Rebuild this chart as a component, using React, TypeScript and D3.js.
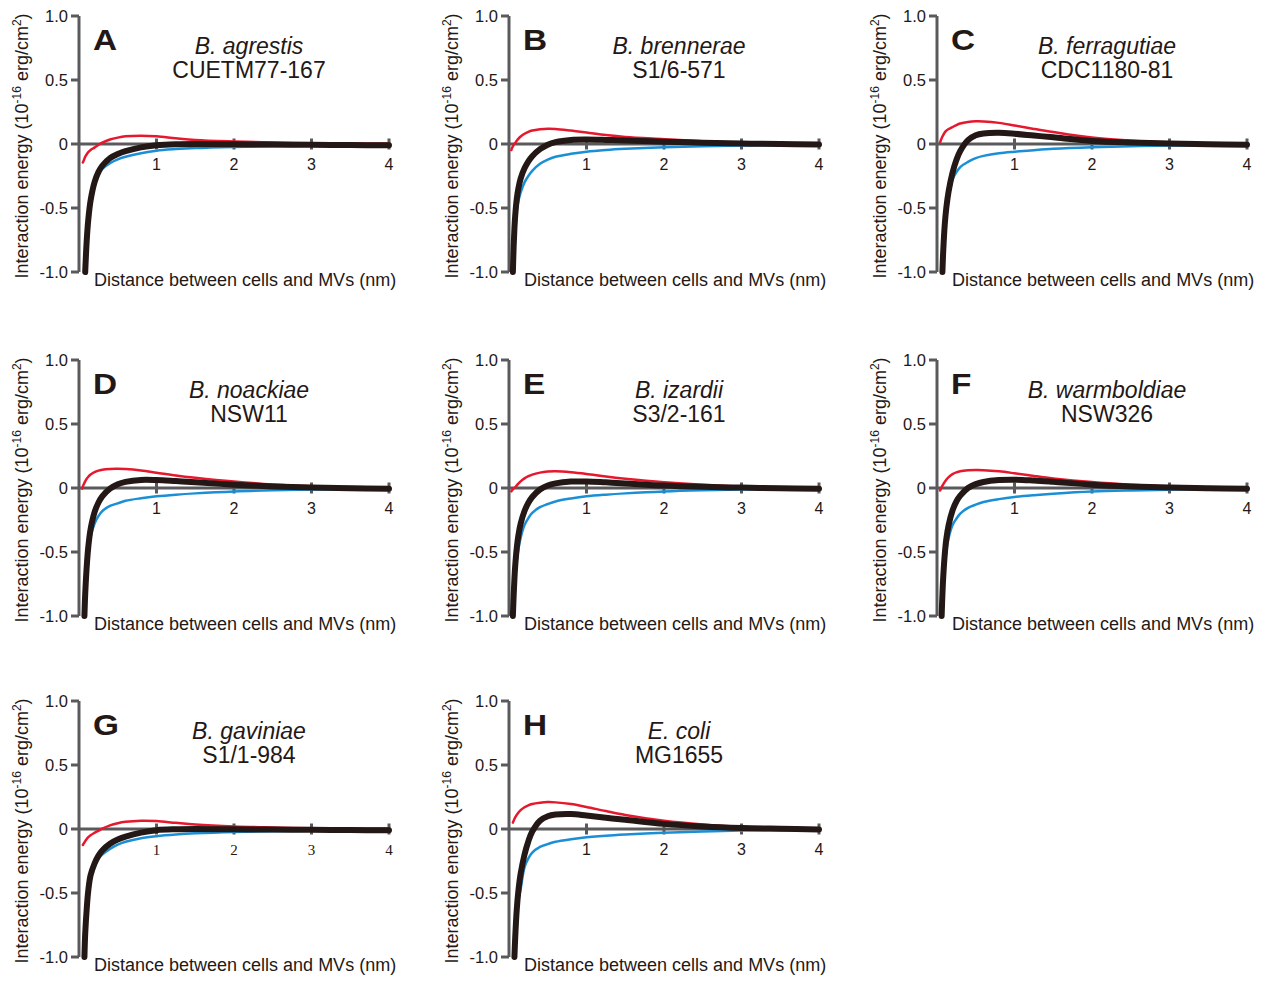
import React from "react";
import * as d3 from "d3";

// distance between cells and MVs (nm), shared sampling grid
const distance = [
  0.03, 0.04, 0.05, 0.06, 0.07, 0.08, 0.1, 0.12, 0.15, 0.2, 0.25, 0.3, 0.4,
  0.5, 0.6, 0.8, 1.0, 1.25, 1.5, 2.0, 2.5, 3.0, 3.5, 4.0,
];

const panelLetters = ["A", "B", "C", "D", "E", "F", "G", "H"];
const speciesNames = [
  "B. agrestis",
  "B. brennerae",
  "B. ferragutiae",
  "B. noackiae",
  "B. izardii",
  "B. warmboldiae",
  "B. gaviniae",
  "E. coli",
];
const strainNames = [
  "CUETM77-167",
  "S1/6-571",
  "CDC1180-81",
  "NSW11",
  "S3/2-161",
  "NSW326",
  "S1/1-984",
  "MG1655",
];
const yTicks = [1.0, 0.5, 0, -0.5, -1.0];
const yTickLabels = ["1.0", "0.5", "0", "-0.5", "-1.0"];
const xTicks = [1, 2, 3, 4];

// red curve, one row per panel, values on the distance grid
const redCurves = [
  [null, null, -0.145, -0.13, -0.115, -0.1, -0.08, -0.064, -0.046, -0.028, -0.008, 0.01, 0.035, 0.05, 0.06, 0.065, 0.06, 0.045, 0.032, 0.02, 0.012, 0.006, 0.003, 0.002],
  [-0.047, -0.03, -0.018, -0.008, 0.0, 0.008, 0.025, 0.04, 0.058, 0.08, 0.095, 0.105, 0.115, 0.12, 0.118, 0.105, 0.09, 0.07, 0.055, 0.038, 0.022, 0.011, 0.006, 0.003],
  [null, 0.013, 0.03, 0.045, 0.058, 0.07, 0.09, 0.104, 0.117, 0.132, 0.148, 0.16, 0.172, 0.177, 0.176, 0.165, 0.145, 0.118, 0.093, 0.05, 0.026, 0.011, 0.005, 0.003],
  [null, -0.005, 0.012, 0.027, 0.04, 0.052, 0.072, 0.088, 0.105, 0.124, 0.136, 0.143, 0.149, 0.15, 0.148, 0.137, 0.12, 0.098, 0.08, 0.05, 0.028, 0.013, 0.007, 0.004],
  [-0.026, -0.018, -0.01, -0.004, 0.0, 0.006, 0.02, 0.034, 0.052, 0.075, 0.092, 0.105, 0.12, 0.128, 0.13, 0.123, 0.11, 0.09, 0.073, 0.045, 0.025, 0.012, 0.006, 0.004],
  [null, -0.02, -0.006, 0.006, 0.018, 0.028, 0.048, 0.065, 0.085, 0.108, 0.122, 0.131, 0.138, 0.14, 0.139, 0.13, 0.115, 0.094, 0.075, 0.046, 0.026, 0.012, 0.006, 0.004],
  [null, null, -0.125, -0.115, -0.105, -0.095, -0.078, -0.064, -0.048, -0.03, -0.014, 0.002, 0.028, 0.045, 0.056, 0.065, 0.062, 0.048, 0.035, 0.02, 0.012, 0.006, 0.003, 0.002],
  [null, null, 0.05, 0.065, 0.078, 0.09, 0.11, 0.127, 0.147, 0.17, 0.185, 0.195, 0.205, 0.21, 0.208, 0.195, 0.172, 0.14, 0.11, 0.065, 0.036, 0.017, 0.008, 0.004],
];

// blue curve
const blueCurves = [
  [null, null, null, null, null, null, -0.7, -0.55, -0.42, -0.3, -0.235, -0.195, -0.15, -0.12, -0.1, -0.072, -0.052, -0.04, -0.032, -0.023, -0.017, -0.013, -0.01, -0.008],
  [null, null, null, null, null, -0.62, -0.52, -0.45, -0.38, -0.3, -0.25, -0.21, -0.155, -0.122, -0.1, -0.077, -0.06, -0.047, -0.038, -0.025, -0.017, -0.012, -0.009, -0.007],
  [null, null, null, null, null, -0.85, -0.64, -0.52, -0.42, -0.28, -0.22, -0.18, -0.14, -0.11, -0.093, -0.072, -0.06, -0.048, -0.038, -0.026, -0.018, -0.012, -0.009, -0.006],
  [null, null, null, null, null, -0.85, -0.63, -0.5, -0.38, -0.28, -0.22, -0.18, -0.14, -0.12, -0.1, -0.08, -0.065, -0.052, -0.042, -0.027, -0.018, -0.012, -0.009, -0.006],
  [null, null, null, null, null, -0.7, -0.57, -0.48, -0.39, -0.29, -0.235, -0.195, -0.15, -0.125, -0.105, -0.082, -0.065, -0.052, -0.042, -0.027, -0.018, -0.012, -0.009, -0.006],
  [null, null, null, null, null, -0.78, -0.6, -0.49, -0.39, -0.29, -0.24, -0.2, -0.155, -0.13, -0.11, -0.087, -0.07, -0.056, -0.045, -0.028, -0.019, -0.013, -0.009, -0.006],
  [null, null, null, null, null, null, -0.6, -0.46, -0.36, -0.28, -0.23, -0.2, -0.155, -0.122, -0.1, -0.072, -0.056, -0.043, -0.034, -0.023, -0.017, -0.013, -0.01, -0.008],
  [null, null, null, null, null, -0.9, -0.68, -0.56, -0.47, -0.3, -0.23, -0.185, -0.14, -0.118, -0.1, -0.08, -0.065, -0.052, -0.043, -0.029, -0.019, -0.012, -0.009, -0.006],
];

// black curve (total)
const totalCurves = [
  [null, null, null, null, null, -1.0, -0.75, -0.59, -0.44, -0.3, -0.22, -0.17, -0.11, -0.078, -0.056, -0.026, -0.01, -0.002, 0.0, -0.002, -0.004, -0.006, -0.008, -0.01],
  [null, null, -1.0, -0.8, -0.66, -0.56, -0.43, -0.35, -0.27, -0.19, -0.135, -0.095, -0.04, -0.005, 0.015, 0.032, 0.035, 0.032, 0.027, 0.018, 0.01, 0.004, 0.0, -0.004],
  [null, null, null, null, -1.0, -0.84, -0.63, -0.5, -0.37, -0.225, -0.125, -0.055, 0.03, 0.068, 0.082, 0.087, 0.08, 0.066, 0.052, 0.024, 0.011, 0.003, -0.002, -0.005],
  [null, null, null, null, -1.0, -0.83, -0.61, -0.46, -0.32, -0.19, -0.115, -0.065, -0.005, 0.03, 0.048, 0.063, 0.062, 0.054, 0.045, 0.026, 0.012, 0.003, -0.002, -0.005],
  [null, null, -1.0, -0.84, -0.71, -0.61, -0.47, -0.375, -0.28, -0.18, -0.115, -0.07, -0.012, 0.02, 0.036, 0.05, 0.051, 0.044, 0.036, 0.019, 0.009, 0.003, -0.002, -0.005],
  [null, null, null, -1.0, -0.83, -0.7, -0.52, -0.4, -0.29, -0.175, -0.105, -0.06, 0.0, 0.03, 0.047, 0.062, 0.065, 0.058, 0.048, 0.026, 0.012, 0.003, -0.002, -0.005],
  [null, null, null, null, -1.0, -0.82, -0.62, -0.48, -0.36, -0.27, -0.21, -0.168, -0.115, -0.082, -0.06, -0.028, -0.009, -0.002, 0.0, -0.002, -0.004, -0.006, -0.008, -0.01],
  [null, null, null, null, -1.0, -0.85, -0.63, -0.49, -0.35, -0.2, -0.095, -0.02, 0.065, 0.1, 0.113, 0.117, 0.105, 0.088, 0.072, 0.04, 0.02, 0.008, 0.002, -0.003],
];

const colX = [79, 509, 937];
const rowY = [16, 360, 701];
const plotW = 310;
const plotH = 256;

const axisColor = "#5a5a5c";
const textColor = "#231815";
const sans = "'Liberation Sans', Arial, sans-serif";
const serif = "'Liberation Serif', 'Times New Roman', serif";

function Panel({ i }: { i: number }) {
  const ox = colX[i % 3];
  const oy = rowY[Math.floor(i / 3)];
  const x = d3.scaleLinear().domain([0, 4]).range([ox, ox + plotW]);
  const y = d3.scaleLinear().domain([-1, 1]).range([oy + plotH, oy]);

  const line = d3
    .line<[number, number | null]>()
    .defined((d) => d[1] !== null)
    .x((d) => x(d[0]))
    .y((d) => y(d[1] as number))
    .curve(d3.curveCatmullRom.alpha(0.5));

  const pts = (vals: (number | null)[]) =>
    distance.map((d, k) => [d, vals[k]] as [number, number | null]);

  const serifTicks = i === 6;

  return (
    <g>
      {/* axes */}
      <line x1={ox} x2={ox} y1={y(1)} y2={y(-1)} stroke={axisColor} strokeWidth={3} />
      <line x1={ox} x2={x(4) + 1.5} y1={y(0)} y2={y(0)} stroke={axisColor} strokeWidth={3} />
      {yTicks.map((t) => (
        <line key={t} x1={ox - 8} x2={ox} y1={y(t)} y2={y(t)} stroke={axisColor} strokeWidth={3} />
      ))}
      {xTicks.map((t) => (
        <line key={t} x1={x(t)} x2={x(t)} y1={y(0) - 5.5} y2={y(0) + 5.5} stroke={axisColor} strokeWidth={3} />
      ))}
      {yTicks.map((t, k) => (
        <text
          key={t}
          x={ox - 11}
          y={y(t) + 6}
          textAnchor="end"
          fontFamily={sans}
          fontSize={16.5}
          fill={textColor}
        >
          {yTickLabels[k]}
        </text>
      ))}
      {xTicks.map((t) => (
        <text
          key={t}
          x={x(t)}
          y={y(0) + 26}
          textAnchor="middle"
          fontFamily={serifTicks ? serif : sans}
          fontSize={serifTicks ? 15 : 16}
          fill={textColor}
        >
          {t}
        </text>
      ))}

      {/* curves */}
      <path d={line(pts(blueCurves[i])) || ""} fill="none" stroke="#1b8fd6" strokeWidth={2.5} strokeLinecap="round" />
      <path d={line(pts(redCurves[i])) || ""} fill="none" stroke="#e5182d" strokeWidth={2.5} strokeLinecap="round" />
      <path d={line(pts(totalCurves[i])) || ""} fill="none" stroke="#231815" strokeWidth={6} strokeLinecap="round" strokeLinejoin="round" />

      {/* labels */}
      <text
        transform={`translate(${ox + 14},${oy + 34}) scale(1.15,1)`}
        fontFamily={sans}
        fontWeight="bold"
        fontSize={29}
        fill={textColor}
      >
        {panelLetters[i]}
      </text>
      <text x={ox + 170} y={oy + 38} textAnchor="middle" fontFamily={sans} fontStyle="italic" fontSize={23} fill={textColor}>
        {speciesNames[i]}
      </text>
      <text x={ox + 170} y={oy + 62} textAnchor="middle" fontFamily={sans} fontSize={23} fill={textColor}>
        {strainNames[i]}
      </text>
      <text
        transform={`translate(${ox - 51},${oy + 130}) rotate(-90)`}
        textAnchor="middle"
        fontFamily={sans}
        fontSize={18}
        fill={textColor}
      >
        Interaction energy (10
        <tspan dy={-7} fontSize={12}>-16</tspan>
        <tspan dy={7}> erg/cm</tspan>
        <tspan dy={-7} fontSize={12}>2</tspan>
        <tspan dy={7}>)</tspan>
      </text>
      <text x={ox + 15} y={oy + plotH + 14} fontFamily={sans} fontSize={18} fill={textColor}>
        Distance between cells and MVs (nm)
      </text>
    </g>
  );
}

export default function App() {
  return (
    <svg
      width={1267}
      height={981}
      style={{ position: "absolute", left: 0, top: 0, background: "#fff" }}
    >
      {panelLetters.map((_, i) => (
        <Panel key={i} i={i} />
      ))}
    </svg>
  );
}
